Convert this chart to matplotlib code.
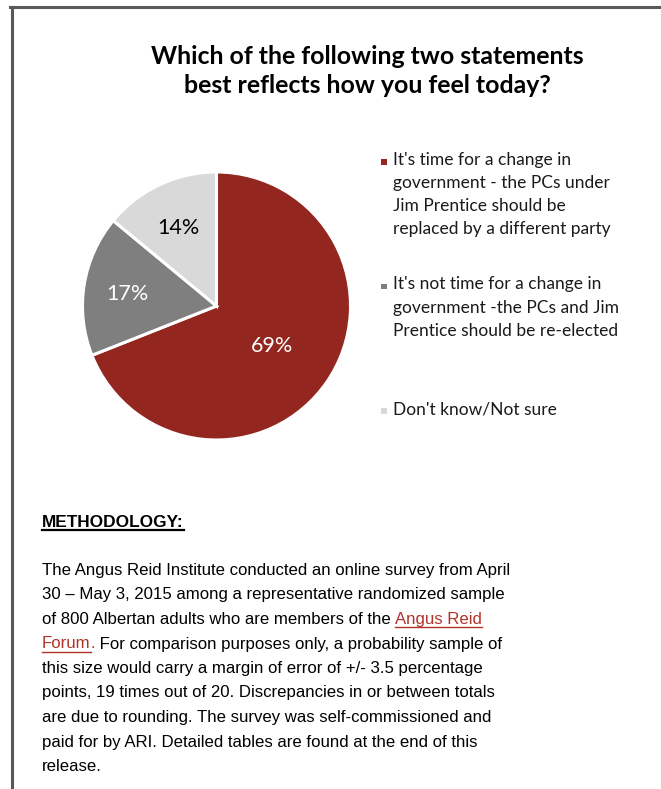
import matplotlib
matplotlib.use("Agg")
import matplotlib.pyplot as plt
from matplotlib.patches import Rectangle
from matplotlib.lines import Line2D
import numpy as np

W, H = 661, 789

# dane
labels = [
    ["It's time for a change in", "government - the PCs under", "Jim Prentice should be",
     "replaced by a different party"],
    ["It's not time for a change in", "government -the PCs and Jim", "Prentice should be re-elected"],
    ["Don't know/Not sure"],
]
values = [69, 17, 14]
colors = ["#93271F", "#7F7F7F", "#D9D9D9"]
pct_colors = ["white", "white", "black"]
pct_dist = [0.5, 0.67, 0.66]

title = "Which of the following two statements\nbest reflects how you feel today?"

method_lines = [
    [("The Angus Reid Institute conducted an online survey from April", None)],
    [("30 \u2013 May 3, 2015 among a representative randomized sample", None)],
    [("of 800 Albertan adults who are members of the ", None), ("Angus Reid", "link")],
    [("Forum", "link"), (".", "red"), (" For comparison purposes only, a probability sample of", None)],
    [("this size would carry a margin of error of +/- 3.5 percentage", None)],
    [("points, 19 times out of 20. Discrepancies in or between totals", None)],
    [("are due to rounding. The survey was self-commissioned and", None)],
    [("paid for by ARI. Detailed tables are found at the end of this", None)],
    [("release.", None)],
]

sans = ["Lato", "DejaVu Sans"]
narrow = ["Liberation Sans Narrow", "Liberation Sans", "DejaVu Sans"]
link_col = "#B0342A"


def fx(x):
    return x / W


def fy(y):
    return 1 - y / H


fig = plt.figure(figsize=(W / 100, H / 100), dpi=100)
fig.patch.set_facecolor("white")

# ramka
fig.add_artist(Line2D([fx(11.5), fx(11.5)], [fy(6.5), fy(789)], color="#595959", lw=2.2))
fig.add_artist(Line2D([fx(10), fx(661)], [fy(6.5), fy(6.5)], color="#595959", lw=2.2))

# tytul
fig.text(fx(367), fy(93), title, ha="center", va="baseline", fontsize=17.9,
         fontweight="bold", family=sans, linespacing=1.3)

# wykres kolowy
cx, cy, r = 216.5, 306, 134
ax = fig.add_axes([fx(cx - r), fy(cy + r), 2 * r / W, 2 * r / H])
wedges, _ = ax.pie(values, colors=colors, startangle=90, counterclock=False,
                   wedgeprops=dict(edgecolor="white", linewidth=2.2))
ax.set_xlim(-1, 1)
ax.set_ylim(-1, 1)
ax.set_aspect("equal")
ax.axis("off")

for w, v, c, d in zip(wedges, values, pct_colors, pct_dist):
    ang = np.radians((w.theta1 + w.theta2) / 2)
    ax.text(d * np.cos(ang), d * np.sin(ang), f"{v}%", ha="center", va="center_baseline",
            color=c, fontsize=15.5, family=sans)

# legenda
leg_top = 165
slot = 124.5
line_h = 23
for i, (lab, col) in enumerate(zip(labels, colors)):
    base = leg_top + i * slot
    fig.add_artist(Rectangle((fx(381), fy(base - 0.5)), 5.5 / W, 5.5 / H, facecolor=col,
                             edgecolor="none", transform=fig.transFigure))
    for k, s in enumerate(lab):
        fig.text(fx(393), fy(base + k * line_h), s, ha="left", va="baseline", fontsize=12.5,
                 family=sans, color="#1a1a1a")

# metodologia
renderer = fig.canvas.get_renderer()
t = fig.text(fx(42), fy(527), "METHODOLOGY:", ha="left", va="baseline", fontsize=12.4,
             fontweight="bold", family=narrow)
bb = t.get_window_extent(renderer)
fig.add_artist(Line2D([fx(42), fx(42 + bb.width)], [fy(530), fy(530)], color="black", lw=1.6))

base0 = 575
step = 24.5
for i, segs in enumerate(method_lines):
    x = 42
    base = base0 + i * step
    for s, kind in segs:
        col = "black" if kind is None else link_col
        t = fig.text(fx(x), fy(base), s, ha="left", va="baseline", fontsize=12.1,
                     family=narrow, color=col)
        wdt = t.get_window_extent(renderer).width
        if kind == "link":
            fig.add_artist(Line2D([fx(x), fx(x + wdt)], [fy(base + 3), fy(base + 3)],
                                  color=link_col, lw=1.0))
        x += wdt

fig.savefig("out.png", dpi=100, facecolor="white")
